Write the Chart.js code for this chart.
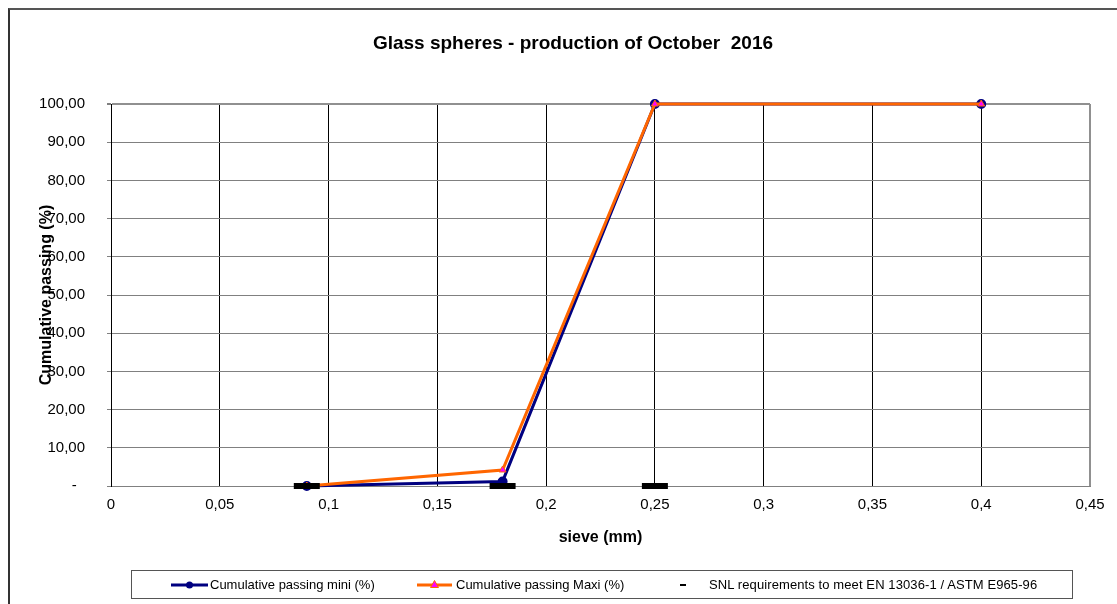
<!DOCTYPE html>
<html>
<head>
<meta charset="utf-8">
<title>Glass spheres - production of October 2016</title>
<script src="https://cdn.jsdelivr.net/npm/chart.js@4/dist/chart.umd.min.js"></script>
<style>
    body { margin: 0; background: #fff; overflow: hidden; font-family: 'Liberation Sans', Arial, sans-serif; }
    #wrap { position: relative; width: 1117px; height: 604px; }
    #gradeChart { position: absolute; left: 0; top: 0; }
    #frame { position: absolute; left: 8px; top: 8px; width: 1200px; height: 700px;
             border-left: 2px solid #333; border-top: 2px solid #555; pointer-events: none; }
    #chartTitle { position: absolute; left: 273px; top: 32px; width: 600px; text-align: center;
                  font-weight: bold; font-size: 19px; color: #000; }
    #legendBox { position: absolute; left: 131px; top: 570px; width: 942px; height: 29px;
                 border: 1px solid #555; box-sizing: border-box; font-size: 13px; color: #000; }
    .item { position: absolute; top: 6px; white-space: nowrap; line-height: 16px; }
    .item svg { position: absolute; top: 0; }
</style>
</head>
<body>
<div id="wrap">
    <canvas id="gradeChart" width="1117" height="604"></canvas>
    <div id="frame"></div>
    <div id="chartTitle">Glass spheres - production of October&nbsp; 2016</div>
    <div id="legendBox">
        <div class="item" style="left:38px">
            <svg width="40" height="16"><line x1="1" y1="8" x2="38" y2="8" stroke="#000080" stroke-width="3"/><circle cx="19.5" cy="8" r="3.5" fill="#000080"/></svg>
            <span style="position:absolute;left:40px">Cumulative passing mini (%)</span>
        </div>
        <div class="item" style="left:284px">
            <svg width="40" height="16"><line x1="1" y1="8" x2="36" y2="8" stroke="#FF6600" stroke-width="3"/><polygon points="18.5,3.5 22.5,10.5 14.5,10.5" fill="#FF00FF" stroke="#FF6600" stroke-width="1"/></svg>
            <span style="position:absolute;left:40px">Cumulative passing Maxi (%)</span>
        </div>
        <div class="item" style="left:546px">
            <svg width="12" height="16"><line x1="2" y1="8" x2="8" y2="8" stroke="#000" stroke-width="2"/></svg>
            <span style="position:absolute;left:31px;letter-spacing:0.1px">SNL requirements to meet EN 13036-1 / ASTM E965-96</span>
        </div>
    </div>
</div>
<script>
// sieve openings (mm) and cumulative passing (%)
const sieveMm = [0.09, 0.18, 0.25, 0.4];
const passingMini = [0, 1.2, 100, 100];
const passingMaxi = [0, 4.2, 100, 100];

// SNL requirement marks
const snlSieve = [0.09, 0.18, 0.25];
const snlPassing = [0, 0, 0];

// axis tick labels (decimal comma, zero shown as a dash)
const xTickLabels = ['0', '0,05', '0,1', '0,15', '0,2', '0,25', '0,3', '0,35', '0,4', '0,45'];
const yTickLabels = ['-  ', '10,00', '20,00', '30,00', '40,00', '50,00', '60,00', '70,00', '80,00', '90,00', '100,00'];

const FONT = "'Liberation Sans', Arial, sans-serif";

// build {x, y} points from two arrays
function toPoints(xs, ys) {
    return xs.map(function(x, i) { return { x: x, y: ys[i] }; });
}

function initializeChart() {
    const ctx = document.getElementById('gradeChart').getContext('2d');
    new Chart(ctx, {
        type: 'scatter',
        data: {
            datasets: [
                {
                    label: 'SNL requirements to meet EN 13036-1 / ASTM E965-96',
                    data: toPoints(snlSieve, snlPassing),
                    showLine: false,
                    pointStyle: 'line',
                    pointRadius: 13,
                    pointBorderWidth: 6,
                    borderColor: '#000',
                    backgroundColor: '#000',
                    clip: false,
                    order: 0
                },
                {
                    label: 'Cumulative passing Maxi (%)',
                    data: toPoints(sieveMm, passingMaxi),
                    showLine: true,
                    borderColor: '#FF6600',
                    borderWidth: 3,
                    pointStyle: 'triangle',
                    pointRadius: 4,
                    pointBackgroundColor: '#FF00FF',
                    pointBorderColor: '#FF6600',
                    pointBorderWidth: 1,
                    clip: false,
                    order: 1
                },
                {
                    label: 'Cumulative passing mini (%)',
                    data: toPoints(sieveMm, passingMini),
                    showLine: true,
                    borderColor: '#000080',
                    borderWidth: 3,
                    pointStyle: 'circle',
                    pointRadius: 3.5,
                    pointBackgroundColor: '#000080',
                    pointBorderColor: '#000080',
                    clip: false,
                    order: 2
                }
            ]
        },
        options: {
            responsive: false,
            animation: false,
            layout: { padding: { left: 0, right: 27, top: 104, bottom: 0 } },
            plugins: {
                legend: { display: false },
                tooltip: { enabled: false }
            },
            scales: {
                x: {
                    type: 'linear',
                    min: 0,
                    max: 0.45,
                    ticks: {
                        stepSize: 0.05,
                        padding: 10,
                        color: '#000',
                        font: { family: FONT, size: 15 },
                        callback: function(value, index) { return xTickLabels[index]; }
                    },
                    grid: {
                        drawTicks: false,
                        color: function(c) { return c.index === xTickLabels.length - 1 ? '#909090' : '#000'; },
                        lineWidth: function(c) { return c.index === xTickLabels.length - 1 ? 2 : 1; }
                    },
                    border: { color: '#808080', width: 1 },
                    title: {
                        display: true,
                        text: 'sieve (mm)',
                        color: '#000',
                        font: { family: FONT, size: 16, weight: 'bold' },
                        padding: { top: 0, bottom: 57 }
                    },
                    afterFit: function(scale) { scale.height = 118; }
                },
                y: {
                    min: 0,
                    max: 100,
                    ticks: {
                        stepSize: 10,
                        padding: 22,
                        color: '#000',
                        font: { family: FONT, size: 15 },
                        callback: function(value, index) { return yTickLabels[index]; }
                    },
                    grid: {
                        color: function(c) { return c.index === yTickLabels.length - 1 ? '#909090' : '#808080'; },
                        lineWidth: function(c) { return c.index === yTickLabels.length - 1 ? 2 : 1; },
                        tickLength: 4,
                        tickColor: '#808080'
                    },
                    border: { color: '#000', width: 1 },
                    title: {
                        display: true,
                        text: 'Cumulative passing (%)',
                        color: '#000',
                        font: { family: FONT, size: 16, weight: 'bold' },
                        padding: { top: 37, bottom: 0 }
                    },
                    afterFit: function(scale) { scale.width = 111; }
                }
            }
        }
    });
}

initializeChart();
</script>
</body>
</html>
